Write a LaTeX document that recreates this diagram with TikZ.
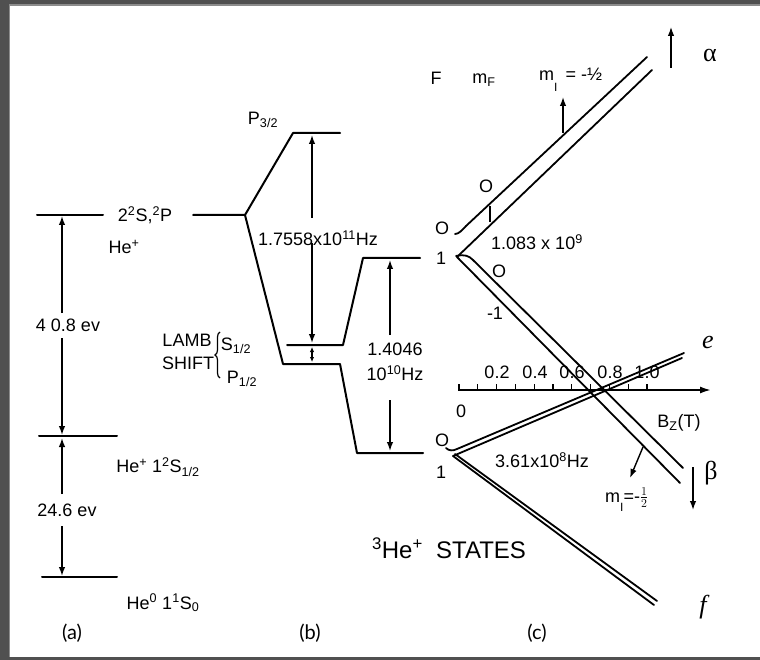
\documentclass[tikz,border=0pt]{standalone}
\usepackage{fontspec}
\usepackage{graphicx}
\setmainfont{Liberation Sans}
\newfontfamily\capfont{Lato}
\newfontfamily\serfont{Liberation Serif}
\usetikzlibrary{arrows.meta,decorations.pathreplacing}
\definecolor{framegray}{HTML}{505050}
\definecolor{frameedge}{HTML}{8C8C8C}
\begin{document}
\begin{tikzpicture}[x=1pt,y=-1pt,
  lev/.style={line width=2pt, line cap=round, line join=round},
  zl/.style={line width=1.8pt, line cap=round},
  arr/.style={line width=1.4pt, -{Latex[length=9pt,width=6.5pt]}},
  sarr/.style={line width=1.2pt, {Latex[length=5pt,width=4.5pt]}-{Latex[length=5pt,width=4.5pt]}},
  lbl/.style={inner sep=0pt, font=\fontsize{18}{20}\selectfont},
  captxt/.style={inner sep=0pt, font=\capfont\fontsize{20}{22}\selectfont},
  grk/.style={inner sep=0pt, font=\serfont\fontsize{26}{28}\selectfont},
]
\useasboundingbox (0,0) rectangle (760,660);
\fill[framegray] (0,0) rectangle (760,660);
\fill[white] (10,6) rectangle (760,657);
\draw[frameedge, line width=1.5pt] (9.25,657) -- (9.25,5.25) -- (760,5.25);

% ---------- panel (a) ----------
\coordinate (a1l) at (37,215);  \coordinate (a1r) at (103,215);
\coordinate (a2l) at (39,436);  \coordinate (a2r) at (117,436);
\coordinate (a3l) at (42,577);  \coordinate (a3r) at (117,577);
\draw[lev] (a1l) -- (a1r);
\draw[lev] (a2l) -- (a2r);
\draw[lev] (a3l) -- (a3r);
\node[lbl] (l2s) at (145,215) {2\textsuperscript{2}S,\textsuperscript{2}P};
\node[lbl] (hep) at (124,247) {He\textsuperscript{+}};
\node[lbl] (e408) at (68,325) {4 0.8 ev};
\node[lbl] (he1) at (158,467) {He\textsuperscript{+} 1\textsuperscript{2}S\textsubscript{1/2}};
\node[lbl] (e246) at (67,510) {24.6 ev};
\node[lbl] (he0) at (163,603) {He\textsuperscript{0} 1\textsuperscript{1}S\textsubscript{0}};
\coordinate (aa1) at (62,313); \coordinate (aa2) at (62,216);
\coordinate (aa3) at (62,338); \coordinate (aa4) at (62,435);
\coordinate (aa5) at (62,494); \coordinate (aa6) at (62,438);
\coordinate (aa7) at (62,526); \coordinate (aa8) at (62,576);
\draw[arr] (aa1) -- (aa2);
\draw[arr] (aa3) -- (aa4);
\draw[arr] (aa5) -- (aa6);
\draw[arr] (aa7) -- (aa8);

% ---------- panel (b) ----------
\coordinate (b0) at (193,215); \coordinate (bs) at (245,215);
\coordinate (p3a) at (293,133); \coordinate (p3b) at (340,133);
\coordinate (p1a) at (283,364); \coordinate (p1b) at (340,364);
\coordinate (f1a) at (357,453); \coordinate (f1b) at (423,453);
\coordinate (s1a) at (287,345); \coordinate (s1b) at (343,345);
\coordinate (f0a) at (363,258); \coordinate (f0b) at (420,258);
\draw[lev] (b0) -- (bs) -- (p3a) -- (p3b);
\draw[lev] (bs) -- (p1a) -- (p1b) -- (f1a) -- (f1b);
\draw[lev] (s1a) -- (s1b) -- (f0a) -- (f0b);
\node[lbl] (p32) at (263,120) {P\textsubscript{3/2}};
\node[lbl] (fq1) at (318,238) {1.7558x10\textsuperscript{11}Hz};
\coordinate (ba1) at (312,218); \coordinate (ba2) at (312,135);
\coordinate (ba3) at (312,243); \coordinate (ba4) at (312,343);
\draw[arr] (ba1) -- (ba2);
\draw[arr] (ba3) -- (ba4);
\draw[sarr] (312,347) -- (312,362);
\node[lbl] (lamb) at (187,340) {LAMB};
\node[lbl] (shift) at (188,363) {SHIFT};
\draw[line width=1.2pt, decorate, decoration={brace, amplitude=5pt}] (220,378) -- (220,332);
\node[lbl] (s12) at (236,346) {S\textsubscript{1/2}};
\node[lbl] (p12) at (242,379) {P\textsubscript{1/2}};
\node[lbl] (fq2a) at (395,349) {1.4046};
\node[lbl] (fq2b) at (395,373) {10\textsuperscript{10}Hz};
\coordinate (bb1) at (390,335); \coordinate (bb2) at (390,260);
\coordinate (bb3) at (390,400); \coordinate (bb4) at (390,451);
\draw[arr] (bb1) -- (bb2);
\draw[arr] (bb3) -- (bb4);

% ---------- panel (c) ----------
\node[lbl] (hF) at (436,78) {F};
\node[lbl] (hmF) at (484,80) {m\textsubscript{F}};
\node[lbl, anchor=base west] (hmI) at (539,81) {m\raisebox{-1.1ex}{\fontsize{12}{12}\selectfont I}\, = -½};

% vertex F=0 / F=1 (upper)
\node[lbl] (v0) at (442,228) {O};
\node[lbl] (v1) at (441,258) {1};
\coordinate (vx) at (457,257);
\coordinate (u1s) at (455,234); \coordinate (u1k) at (466,226); \coordinate (u1e) at (647,57);
\coordinate (u2e) at (652,70);
\coordinate (l2k) at (473,260); \coordinate (l1e) at (680,483); \coordinate (l2e) at (683,468);
\draw[zl] (u1s) .. controls (459,234) and (462,230) .. (u1k) -- (u1e);
\draw[zl] (vx) -- (u2e);
\draw[zl] (vx) -- (l1e);
\draw[zl] (456,256) .. controls (465,254) and (469,256) .. (l2k) -- (l2e);
\draw[line width=1.3pt] (490,206) -- (490,222);
\node[lbl] (o1) at (486,186) {O};
\node[lbl] (o2) at (499,271) {O};
\node[lbl] (m1) at (495,313) {-1};
\node[lbl] (hf1) at (537,242) {1.083 x 10\textsuperscript{9}};
\coordinate (mi1) at (563,133); \coordinate (mi2) at (563,97);
\draw[arr] (mi1) -- (mi2);
\coordinate (al1) at (671,68); \coordinate (al2) at (671,27);
\draw[arr, line width=1.2pt] (al1) -- (al2);
\node[grk] (al) at (710,55) {α};

% axis
\coordinate (ax0) at (458,390); \coordinate (ax1) at (711,390);
\draw[line width=1.8pt, -{Latex[length=11pt,width=7pt]}] (ax0) -- (ax1);
\foreach \k in {0,...,10} \draw[line width=1.2pt] ({459+18.8*\k},390) -- ({459+18.8*\k},384);
\node[lbl] (t0) at (461,411) {0};
\node[lbl] (t2) at (497,372) {0.2};
\node[lbl] (t4) at (535,372) {0.4};
\node[lbl] (t6) at (572,372) {0.6};
\node[lbl] (t8) at (610,372) {0.8};
\node[lbl] (t10) at (647,372) {1.0};
\node[lbl] (bz) at (679,423) {B\textsubscript{Z}(T)};

% vertex F=0 / F=1 (lower)
\node[lbl] (q0) at (442,440) {O};
\node[lbl] (q1) at (441,472) {1};
\coordinate (wx) at (453,456);
\coordinate (e1s) at (446,448); \coordinate (e1k) at (457,449); \coordinate (e1e) at (684,353);
\coordinate (e2e) at (682,358);
\coordinate (f1s) at (455,454); \coordinate (f1e) at (657,601);
\coordinate (f2e) at (654,605);
\draw[zl] (e1s) .. controls (449,451) and (453,451) .. (e1k) -- (e1e);
\draw[zl] (wx) -- (e2e);
\draw[zl] (f1s) -- (f1e);
\draw[zl] (wx) -- (f2e);
\node[lbl] (hf2) at (542,460) {3.61x10\textsuperscript{8}Hz};
\coordinate (mb1) at (643,447); \coordinate (mb2) at (630,478);
\draw[arr] (mb1) -- (mb2);
\node[lbl, anchor=base west] (mIb) at (605,502) {m\raisebox{-1.0ex}{\fontsize{12}{12}\selectfont I}=-$\frac{1}{2}$};
\coordinate (be1) at (693,467); \coordinate (be2) at (693,510);
\draw[arr] (be1) -- (be2);
\node[grk] (be) at (711,473) {β};
\node[grk, font=\serfont\itshape\fontsize{26}{28}\selectfont] (le) at (708,343) {e};
\node[grk, font=\serfont\itshape\fontsize{26}{28}\selectfont] (lf) at (703,607) {f};
\node[lbl, font=\fontsize{24}{26}\selectfont] (states) at (449,548) {\textsuperscript{3}He\textsuperscript{+}\ \ STATES};

% panel captions
\node[captxt] (ca) at (72,633) {(a)};
\node[captxt] (cb) at (310,633) {(b)};
\node[captxt] (cc) at (537,633) {(c)};
\end{tikzpicture}
\end{document}
